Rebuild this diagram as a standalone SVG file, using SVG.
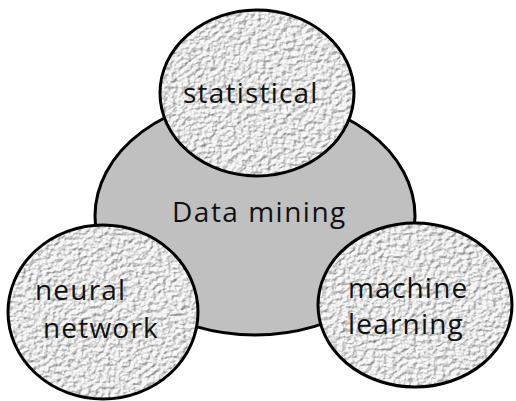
<svg xmlns="http://www.w3.org/2000/svg" width="516" height="401" viewBox="0 0 516 401">
  <defs>
    <!-- embossed paper grain for the satellite circles -->
    <filter id="grain" x="0" y="0" width="100%" height="100%" color-interpolation-filters="sRGB">
      <feTurbulence type="fractalNoise" baseFrequency="0.2 0.26" numOctaves="3" seed="7" result="noise"/>
      <feDiffuseLighting in="noise" surfaceScale="2.5" lighting-color="#ffffff" diffuseConstant="1.1" result="lit">
        <feDistantLight azimuth="225" elevation="55"/>
      </feDiffuseLighting>
      <feColorMatrix in="lit" type="matrix" values="0.55 0 0 0 0.42  0.55 0 0 0 0.42  0.55 0 0 0 0.42  0 0 0 1 0" result="tone"/>
      <feComposite in="tone" in2="SourceAlpha" operator="in"/>
    </filter>
    <style>
      .hub { fill: #c0c0c0; stroke: #000; stroke-width: 3; }
      .sat { fill: #c8c8c8; stroke: none; }
      .rim { fill: none; stroke: #000; stroke-width: 3; }
      text { font-family: "Open Sans", "Noto Sans", sans-serif; fill: #111; font-size: 28px; letter-spacing: 1.2px; }
    </style>
  </defs>

  <rect width="516" height="401" fill="#ffffff"/>

  <g id="data-mining">
    <ellipse class="hub" cx="255" cy="216" rx="160" ry="119"/>
    <text x="172" y="222" style="letter-spacing:1.5px">Data mining</text>
  </g>

  <g id="statistical">
    <ellipse class="sat" cx="257" cy="93" rx="97" ry="83" filter="url(#grain)"/>
    <ellipse class="rim" cx="257" cy="93" rx="97" ry="83"/>
    <text x="183" y="103">statistical</text>
  </g>

  <g id="neural-network">
    <ellipse class="sat" cx="103" cy="312" rx="95" ry="87" filter="url(#grain)"/>
    <ellipse class="rim" cx="103" cy="312" rx="95" ry="87"/>
    <text x="35" y="300">neural</text>
    <text x="43" y="338">network</text>
  </g>

  <g id="machine-learning">
    <ellipse class="sat" cx="415" cy="305" rx="97" ry="82" filter="url(#grain)"/>
    <ellipse class="rim" cx="415" cy="305" rx="97" ry="82"/>
    <text x="348" y="298">machine</text>
    <text x="348" y="334">learning</text>
  </g>

  <g id="connectors"/>
</svg>
